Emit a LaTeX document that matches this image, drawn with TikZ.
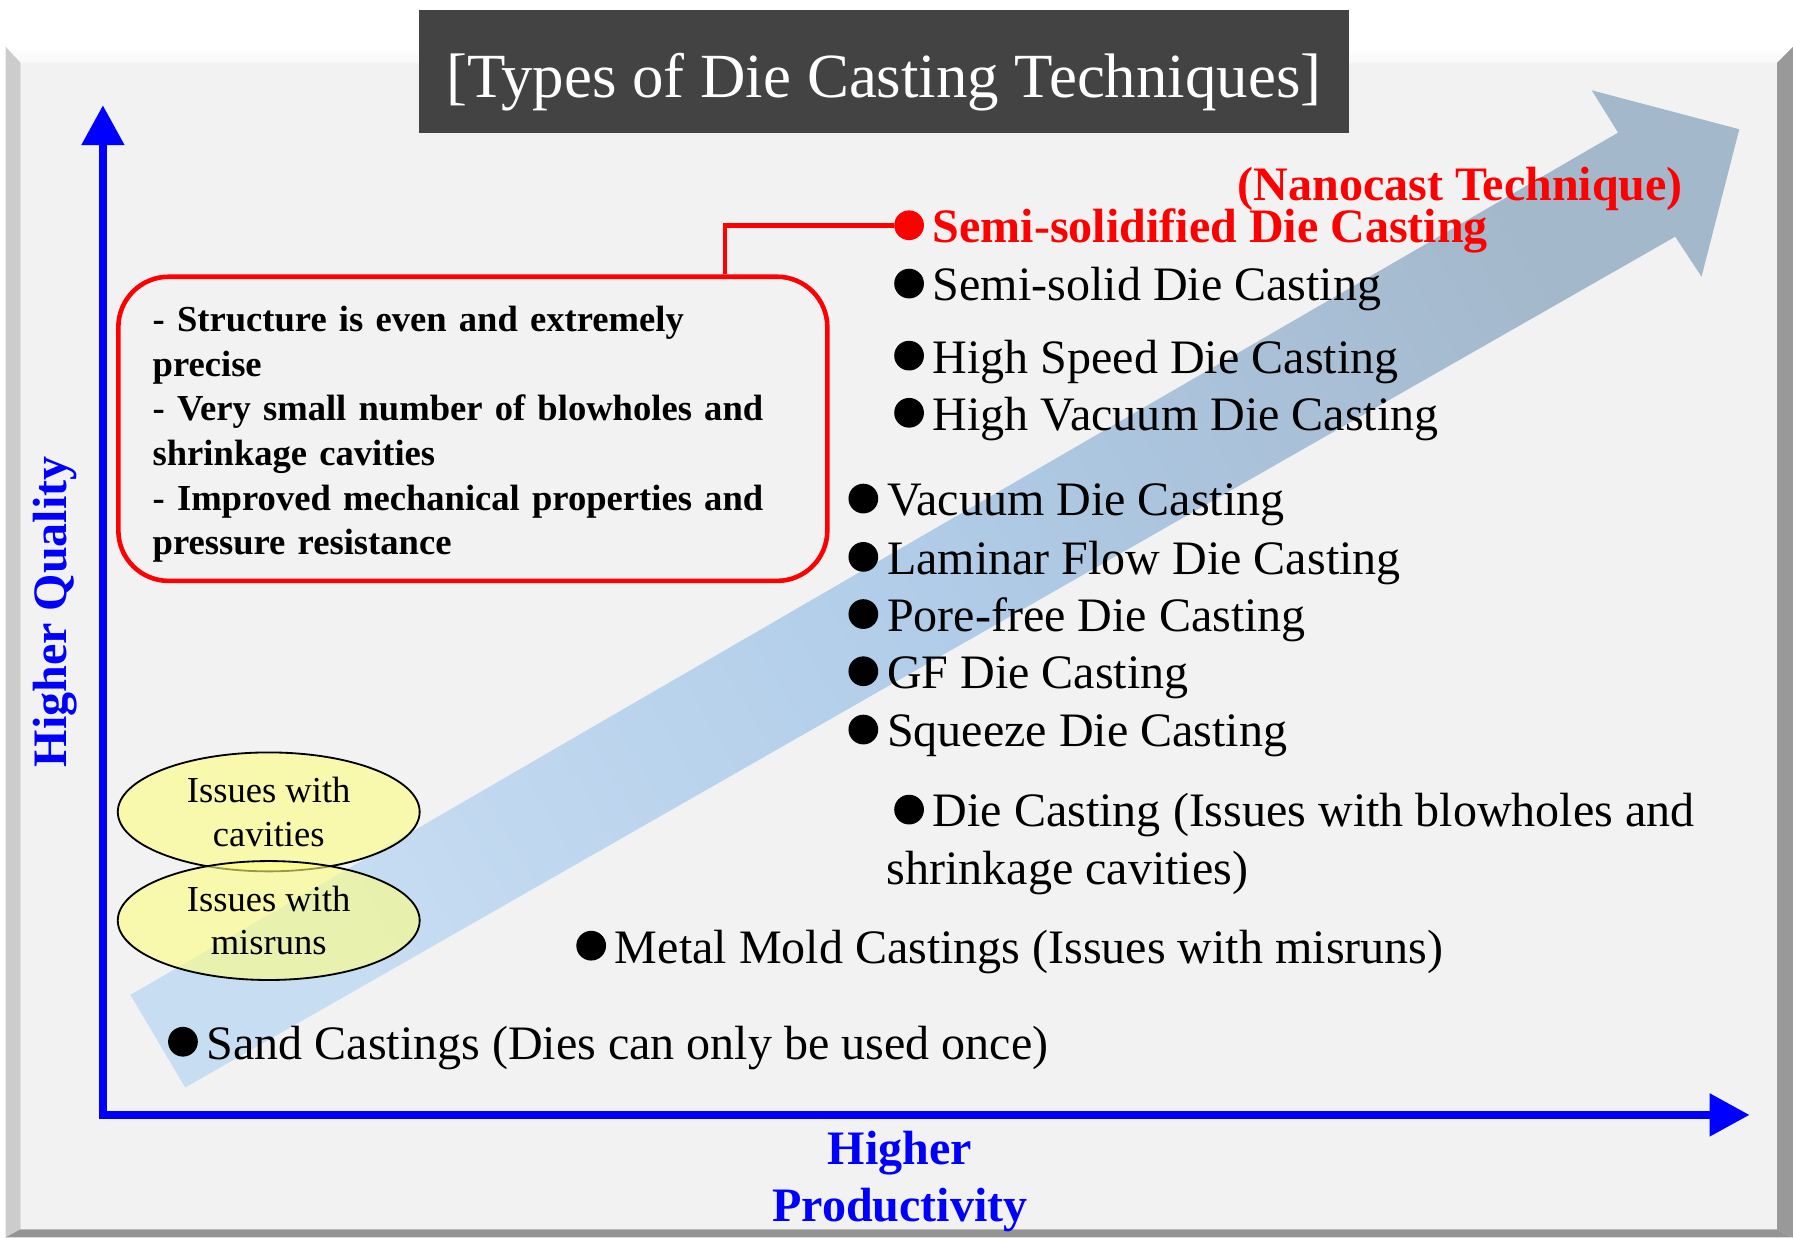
\documentclass[tikz,border=0pt]{standalone}
\usepackage{fontspec}
\setmainfont{Liberation Serif}
\usetikzlibrary{arrows.meta,positioning,shapes.geometric,calc}

\definecolor{panelgray}{HTML}{F2F2F2}
\definecolor{titlegray}{HTML}{434343}
\definecolor{leftbevel}{HTML}{CCCCCC}
\definecolor{rightbevel}{HTML}{999999}
\definecolor{bottombevel}{HTML}{949494}
\definecolor{topbevel}{HTML}{F8F8F8}
\definecolor{arrowlow}{RGB}{199,221,242}
\definecolor{arrowmid}{RGB}{176,204,232}
\definecolor{arrowhigh}{RGB}{164,184,203}
\definecolor{issueyellow}{RGB}{255,255,128}

\tikzset{
	bullet/.style={circle, fill=black, inner sep=0pt, minimum size=13pt},
	item/.style={inner sep=0pt, anchor=west, font=\fontsize{21}{25}\selectfont,
		text height=20pt, text depth=4.8pt},
	issue/.style={ellipse, draw=black, line width=0.8pt, fill=issueyellow,
		fill opacity=0.6, text opacity=1, minimum width=132pt, minimum height=52pt,
		inner sep=0pt, align=center, font=\fontsize{16}{19}\selectfont},
	notebox/.style={draw=red, line width=2pt, rounded corners=22pt, text width=280pt,
		align=left, inner xsep=15pt, minimum height=133pt,
		font=\bfseries\fontsize{16}{19.5}\selectfont},
	axislabel/.style={text=blue, inner sep=0pt, font=\bfseries\fontsize{21}{25}\selectfont},
	axis/.style={blue, line width=3.5pt, line join=miter,
		{Triangle[length=17.5pt,width=18pt]}-{Triangle[length=17.5pt,width=18pt]}},
	bigarrow/.style={bottom color=arrowlow, top color=arrowhigh, middle color=arrowmid,
		shading angle=-60}
}

\begin{document}
\begin{tikzpicture}[x=0.5pt, y=-0.5pt]
	\useasboundingbox (0,0) rectangle (1568,1082);
	\fill[white] (0,0) rectangle (1568,1082);
	% panel with bevelled frame
	\fill[panelgray] (18,55) rectangle (1554,1075);
	\shade[top color=white, bottom color=topbevel] (5,41) -- (1568,41) -- (1554,55) -- (18,55) -- cycle;
	\fill[leftbevel] (5,41) -- (18,55) -- (18,1075) -- (5,1082) -- cycle;
	\fill[rightbevel] (1568,41) -- (1554,55) -- (1554,1075) -- (1568,1082) -- cycle;
	\fill[bottombevel] (5,1082) -- (18,1075) -- (1554,1075) -- (1568,1082) -- cycle;

	\node[fill=titlegray, text=white, inner sep=0pt, minimum width=407pt, minimum height=53.5pt,
		text height=23pt, text depth=0.5pt,
		font=\fontsize{27.5}{33}\selectfont] (title) at (773,62.5) {[Types of Die Casting Techniques]};

	\shade[bigarrow] (114,870) -- (1415,116) -- (1392,79) -- (1521,113) -- (1488,242)
		-- (1465,207) -- (162,951) -- cycle;

	% axes
	\coordinate (ytip) at (90,92);
	\coordinate (xtip) at (1530,975);
	\draw[axis] (ytip) |- (xtip);
	\node[axislabel, rotate=90] (qual) at (48,535) {Higher Quality};
	\node[axislabel, align=center] (prod) at (787,1033) {Higher\\Productivity};

	\node[issue] (cav) at (235,710) {Issues with\\cavities};
	\node[issue] (mis) at (235,805) {Issues with\\misruns};

	\node[notebox] (box) at (413.5,375) {\rule{0pt}{16pt}- Structure is even and extremely\\precise\\
		- Very small number of blowholes and\\shrinkage cavities\\
		- Improved mechanical properties and\\pressure resistance};

	\node[bullet, fill=red] (rbul) at (795,197) {};
	\node[item, right=3.5pt of rbul, text=red, font=\bfseries\fontsize{21}{25}\selectfont] (rtxt)
		{Semi-solidified Die Casting};
	\node[item, text=red, font=\bfseries\fontsize{21}{25}\selectfont] (nano) at (1082,160)
		{(Nanocast Technique)};
	\draw[red, line width=2pt] ($(box.north)+(220.5,0)$) |- (rbul.west);

	\foreach \xb/\yb/\txt [count=\i] in {795/248/Semi-solid Die Casting,
		795/311/High Speed Die Casting, 795/361/High Vacuum Die Casting,
		755/436/Vacuum Die Casting, 755/487/Laminar Flow Die Casting,
		755/537/Pore-free Die Casting, 755/587/GF Die Casting,
		755/638/Squeeze Die Casting, 795/708/Die Casting (Issues with blowholes and,
		517/827/Metal Mold Castings (Issues with misruns),
		160/911/Sand Castings (Dies can only be used once)}
	{
		\node[bullet] (b\i) at (\xb,\yb) {};
		\node[item, right=3.5pt of b\i] (t\i) {\txt};
	}
	\node[item] (t9b) at (775,758) {shrinkage cavities)};
\end{tikzpicture}
\end{document}
